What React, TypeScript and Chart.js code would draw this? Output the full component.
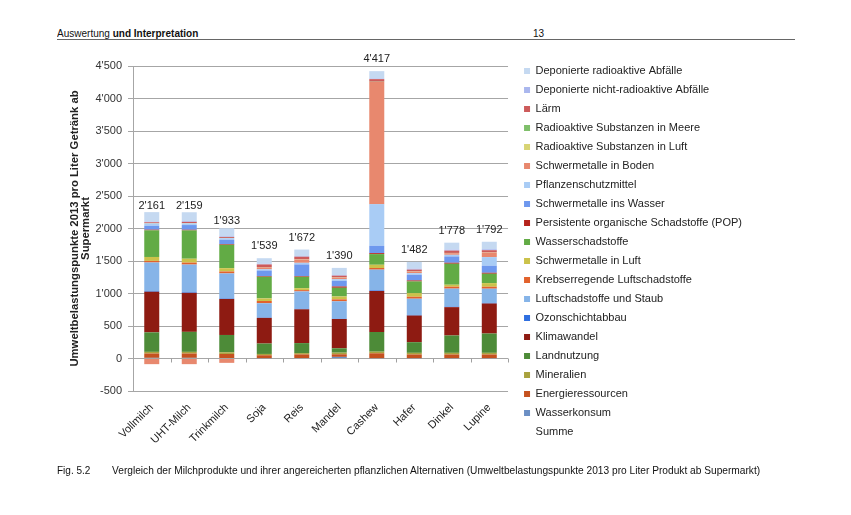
import React, { useEffect, useRef } from 'react';
import { Chart, registerables } from 'chart.js';

Chart.register(...registerables);

const categories = ['Vollmilch', 'UHT-Milch', 'Trinkmilch', 'Soja', 'Reis', 'Mandel', 'Cashew', 'Hafer', 'Dinkel', 'Lupine'];
const summe = [2161, 2159, 1933, 1539, 1672, 1390, 4417, 1482, 1778, 1792];

// stacked from bottom to top
const wasserkonsum = [10, 10, 8, 5, 8, 25, 5, 5, 5, 5];
const energieressourcen = [67, 67, 62, 45, 55, 40, 75, 57, 57, 57];
const mineralien = [25, 25, 25, 20, 20, 25, 25, 25, 25, 25];
const landnutzung = [300, 308, 267, 160, 154, 67, 303, 164, 267, 297];
const klimawandel = [625, 600, 554, 395, 520, 451, 631, 410, 436, 462];
const ozonschichtabbau = [10, 10, 8, 5, 8, 5, 10, 8, 8, 8];
const luftschadstoffe = [440, 425, 385, 220, 267, 267, 318, 251, 277, 220];
const krebserregende = [25, 30, 30, 35, 20, 30, 25, 30, 30, 30];
const schwermetalleLuft = [60, 60, 51, 40, 30, 45, 50, 56, 30, 56];
const wasserschadstoffe = [410, 436, 359, 333, 175, 133, 164, 180, 323, 144];
const pop = [10, 10, 10, 10, 10, 20, 15, 15, 15, 15];
const schwermetalleWasser = [60, 72, 67, 85, 180, 87, 113, 87, 97, 108];
const pflanzenschutz = [35, 25, 25, 20, 25, 25, 641, 25, 25, 133];
const schwermetalleBoden = [-87, -87, -67, 30, 50, 25, 1879, 25, 25, 72];
const radioaktivLuft = [2, 2, 2, 2, 2, 2, 2, 2, 2, 2];
const radioaktivMeere = [2, 2, 2, 2, 2, 2, 2, 2, 2, 2];
const laerm = [15, 20, 15, 40, 40, 25, 40, 25, 36, 30];
const deponiertNicht = [10, 12, 10, 10, 10, 10, 10, 15, 15, 15];
const deponiertRadio = [146, 136, 124, 86, 100, 110, 113, 104, 107, 115];

const yTitle = ['Umweltbelastungspunkte 2013 pro Liter Getränk ab', 'Supermarkt'];

const series: { label: string; data: number[]; color: string }[] = [
  { label: 'Wasserkonsum', data: wasserkonsum, color: '#6b8fc4' },
  { label: 'Energieressourcen', data: energieressourcen, color: '#c5521f' },
  { label: 'Mineralien', data: mineralien, color: '#a9a23e' },
  { label: 'Landnutzung', data: landnutzung, color: '#4d8b38' },
  { label: 'Klimawandel', data: klimawandel, color: '#8e1b12' },
  { label: 'Ozonschichtabbau', data: ozonschichtabbau, color: '#2f6fe0' },
  { label: 'Luftschadstoffe und Staub', data: luftschadstoffe, color: '#86b4e8' },
  { label: 'Krebserregende Luftschadstoffe', data: krebserregende, color: '#e2622c' },
  { label: 'Schwermetalle in Luft', data: schwermetalleLuft, color: '#cbc24a' },
  { label: 'Wasserschadstoffe', data: wasserschadstoffe, color: '#62ab45' },
  { label: 'Persistente organische Schadstoffe (POP)', data: pop, color: '#b5231c' },
  { label: 'Schwermetalle ins Wasser', data: schwermetalleWasser, color: '#6e98ee' },
  { label: 'Pflanzenschutzmittel', data: pflanzenschutz, color: '#a9ccf5' },
  { label: 'Schwermetalle in Boden', data: schwermetalleBoden, color: '#e8886e' },
  { label: 'Radioaktive Substanzen in Luft', data: radioaktivLuft, color: '#d8d474' },
  { label: 'Radioaktive Substanzen in Meere', data: radioaktivMeere, color: '#7fbf6a' },
  { label: 'Lärm', data: laerm, color: '#cd5b5b' },
  { label: 'Deponierte nicht-radioaktive Abfälle', data: deponiertNicht, color: '#aab7ee' },
  { label: 'Deponierte radioaktive Abfälle', data: deponiertRadio, color: '#c5d9f1' },
];

const fmt = (v: number) => {
  const s = Math.abs(Math.round(v)).toString().replace(/\B(?=(\d{3})+(?!\d))/g, "'");
  return (v < 0 ? '-' : '') + s;
};

const FONT = "'Liberation Sans', Arial, sans-serif";

const extrasPlugin = {
  id: 'extras',
  afterDatasetsDraw(chart: any) {
    const ctx = chart.ctx;
    const xs = chart.scales.x;
    const ys = chart.scales.y;
    const y0 = ys.getPixelForValue(0);
    const step = xs.getPixelForValue(1) - xs.getPixelForValue(0);
    ctx.save();
    ctx.strokeStyle = '#a0a0a0';
    ctx.lineWidth = 1;
    ctx.beginPath();
    for (let i = 0; i < categories.length; i++) {
      const x = Math.round(xs.getPixelForValue(i) + step / 2) + 0.5;
      ctx.moveTo(x, y0);
      ctx.lineTo(x, y0 + 4);
    }
    ctx.stroke();
    // Summe labels
    const meta = chart.getDatasetMeta(0);
    ctx.fillStyle = '#222';
    ctx.font = `11px ${FONT}`;
    ctx.textAlign = 'center';
    ctx.textBaseline = 'middle';
    meta.data.forEach((pt: any, i: number) => {
      ctx.fillText(fmt(summe[i]), pt.x, pt.y - 12);
    });
    ctx.restore();
  },
};

export default function App() {
  const ref = useRef<HTMLCanvasElement | null>(null);
  useEffect(() => {
    if (!ref.current) return;
    const datasets: any[] = [
      {
        type: 'line',
        label: 'Summe',
        data: summe,
        stack: 'summe',
        borderColor: 'rgba(0,0,0,0)',
        backgroundColor: 'rgba(0,0,0,0)',
        borderWidth: 0,
        pointRadius: 0,
        showLine: false,
      },
      ...series.map((s) => ({
        type: 'bar',
        label: s.label,
        data: s.data,
        backgroundColor: s.color,
        borderWidth: 0,
        stack: 'main',
        barPercentage: 0.8,
        categoryPercentage: 0.5,
      })),
    ];
    const chart = new Chart(ref.current, {
      type: 'bar',
      data: { labels: categories, datasets },
      options: {
        animation: false,
        responsive: false,
        layout: { padding: { top: 20, bottom: 32, left: 60, right: 99 } },
        plugins: {
          title: { display: true, text: ' ', font: { size: 10 }, padding: { top: 0, bottom: 34 } },
          tooltip: { enabled: false },
          legend: {
            position: 'right',
            reverse: true,
            maxWidth: 320,
            labels: {
              boxWidth: 6,
              boxHeight: 6,
              padding: 8,
              color: '#222',
              font: { size: 11, family: FONT },
            },
          },
        },
        scales: {
          x: {
            stacked: true,
            grid: { display: false, drawTicks: false },
            border: { display: false },
            ticks: {
              autoSkip: false,
              maxRotation: 45,
              minRotation: 45,
              padding: 10,
              labelOffset: 0,
              color: '#222',
              font: { size: 11, family: FONT },
            },
            afterFit: (s: any) => {
              s.height = 92;
            },
          },
          y: {
            stacked: true,
            min: -500,
            max: 4500,
            ticks: {
              stepSize: 500,
              padding: 6,
              color: '#333',
              font: { size: 11, family: FONT },
              callback: (v: any) => fmt(Number(v)),
            },
            grid: { color: '#a6a6a6', tickLength: 5, lineWidth: 1 },
            border: { display: true, color: '#a6a6a6' },
            title: {
              display: true,
              text: yTitle,
              color: '#222',
              font: { size: 11.3, weight: 'bold', family: FONT, lineHeight: 0.95 },
              padding: { top: 10, bottom: 0 },
            },
            afterFit: (s: any) => {
              s.width = 73;
            },
          },
          gap: {
            type: 'linear',
            position: 'right',
            display: true,
            grid: { display: false, drawTicks: false },
            border: { display: false },
            ticks: { display: false },
            afterFit: (s: any) => {
              s.width = 8;
            },
          },
        },
      },
      plugins: [extrasPlugin],
    } as any);
    return () => chart.destroy();
  }, []);

  const txt: React.CSSProperties = {
    position: 'absolute',
    fontFamily: FONT,
    fontSize: 11,
    color: '#111',
    whiteSpace: 'nowrap',
    lineHeight: '12px',
    transform: 'scaleX(0.91)',
    transformOrigin: 'left center',
  };

  return (
    <div style={{ position: 'absolute', left: 0, top: 0, width: 851, height: 515, background: '#fff' }}>
      <div style={{ ...txt, left: 57, top: 27 }}>
        Auswertung <b>und Interpretation</b>
      </div>
      <div style={{ ...txt, left: 533, top: 27 }}>13</div>
      <div style={{ position: 'absolute', left: 57, top: 39, width: 738, height: 0, borderTop: '1px solid #666' }} />
      <canvas ref={ref} width={851} height={515} style={{ position: 'absolute', left: 0, top: 0, width: 851, height: 515 }} />
      <div style={{ ...txt, left: 57, top: 464 }}>Fig. 5.2</div>
      <div style={{ ...txt, left: 112, top: 464, transform: 'scaleX(0.925)' }}>
        Vergleich der Milchprodukte und ihrer angereicherten pflanzlichen Alternativen (Umweltbelastungspunkte 2013 pro Liter Produkt ab Supermarkt)
      </div>
    </div>
  );
}
